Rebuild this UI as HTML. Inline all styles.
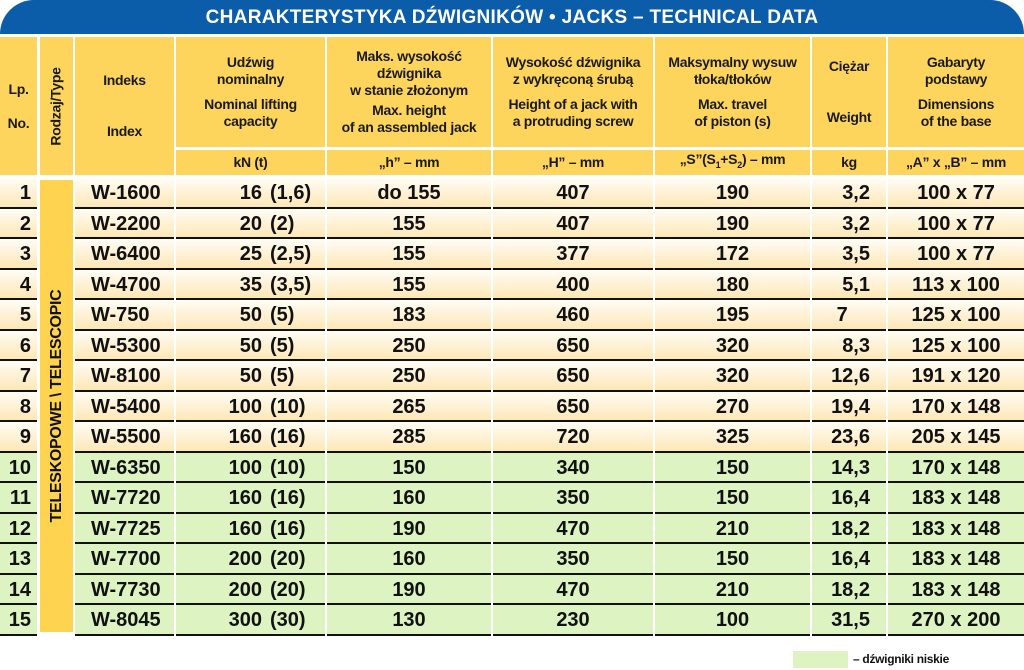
<!DOCTYPE html>
<html><head><meta charset="utf-8">
<style>
*{margin:0;padding:0;box-sizing:border-box}
body{width:1024px;height:670px;background:#fff;position:relative;overflow:hidden;font-family:"Liberation Sans",sans-serif;font-weight:bold;color:#111}
.t{position:absolute;left:0;top:0;width:1024px;height:34px;background:#0b5ca9;border-radius:34px 34px 0 0;color:#fff;font-size:19px;text-align:center;line-height:36px;letter-spacing:0.3px}
.h{position:absolute;background:#fdd45c;display:flex;align-items:center;justify-content:center;text-align:center;font-size:14px;line-height:17px;color:#1a1a1a;letter-spacing:-0.3px}
.h>div{width:100%}
.rot{position:absolute;left:40px;width:33px;background:#fdd350}
.row{position:absolute;left:0;width:1024px;height:30.5px}
.c{position:absolute;top:0;height:30.5px;border-bottom:2.5px solid #111;font-size:20px;line-height:30px}
.y .c{background:linear-gradient(#fffdf6,#fde7b5)}
.g .c{background:#ddf4c2}
.c1{left:0;width:37px;text-align:right;padding-right:6px}
.c3{left:75px;width:99px;padding-left:16px}
.c4{left:176px;width:149px}
.c4 .a{position:absolute;right:63px}.c4 .b{position:absolute;left:94px}
.c5{left:327px;width:164px;text-align:center}
.c6{left:493px;width:160px;text-align:center}
.c7{left:655px;width:155px;text-align:center}
.c8{left:812px;width:74px;text-align:right;padding-right:16px}
.c9{left:888px;width:136px;text-align:center}
.sp{display:block;height:8px}
</style></head><body>
<div class="t">CHARAKTERYSTYKA DŹWIGNIKÓW • JACKS – TECHNICAL DATA</div>
<div class="h" style="left:0;top:37px;width:37px;height:138px"><div>Lp.<br><br>No.</div></div>
<div class="h" style="left:40px;top:37px;width:33px;height:138px"><span style="transform:rotate(-90deg);white-space:nowrap;display:block">Rodzaj/Type</span></div>
<div class="h" style="left:75px;top:37px;width:99px;height:138px"><div>Indeks<br><br><br>Index</div></div>
<div class="h" style="left:176px;top:37px;width:149px;height:110px"><div>Udźwig<br>nominalny<span class="sp"></span>Nominal lifting<br>capacity</div></div>
<div class="h" style="left:327px;top:37px;width:164px;height:110px"><div>Maks. wysokość<br>dźwignika<br>w stanie złożonym<span style="display:block;height:3px"></span>Max. height<br>of an assembled jack</div></div>
<div class="h" style="left:493px;top:37px;width:160px;height:110px"><div>Wysokość dźwignika<br>z wykręconą śrubą<span class="sp"></span>Height of a jack with<br>a protruding screw</div></div>
<div class="h" style="left:655px;top:37px;width:155px;height:110px"><div>Maksymalny wysuw<br>tłoka/tłoków<span class="sp"></span>Max. travel<br>of piston (s)</div></div>
<div class="h" style="left:812px;top:37px;width:74px;height:110px"><div>Ciężar<br><br><br>Weight</div></div>
<div class="h" style="left:888px;top:37px;width:136px;height:110px"><div>Gabaryty<br>podstawy<span class="sp"></span>Dimensions<br>of the base</div></div>
<div class="h" style="left:176px;top:150px;width:149px;height:25px"><div>kN (t)</div></div>
<div class="h" style="left:327px;top:150px;width:164px;height:25px"><div>„h” – mm</div></div>
<div class="h" style="left:493px;top:150px;width:160px;height:25px"><div>„H” – mm</div></div>
<div class="h" style="left:655px;top:150px;width:155px;height:25px"><div>„S”(S<sub style="font-size:9px">1</sub>+S<sub style="font-size:9px">2</sub>) – mm</div></div>
<div class="h" style="left:812px;top:150px;width:74px;height:25px"><div>kg</div></div>
<div class="h" style="left:888px;top:150px;width:136px;height:25px"><div>„A” x „B” – mm</div></div>
<div class="rot" style="top:180px;height:452px"><span style="position:absolute;left:50%;top:50%;transform:translate(-50%,-50%) rotate(-90deg);white-space:nowrap;font-size:16px;letter-spacing:-0.3px">TELESKOPOWE \ TELESCOPIC</span></div>

<div class="row y" style="top:178px"><div class="c c1">1</div><div class="c c3">W-1600</div><div class="c c4"><span class="a">16</span><span class="b">(1,6)</span></div><div class="c c5">do 155</div><div class="c c6">407</div><div class="c c7">190</div><div class="c c8">3,2</div><div class="c c9">100 x 77</div></div>
<div class="row y" style="top:208.5px"><div class="c c1">2</div><div class="c c3">W-2200</div><div class="c c4"><span class="a">20</span><span class="b">(2)</span></div><div class="c c5">155</div><div class="c c6">407</div><div class="c c7">190</div><div class="c c8">3,2</div><div class="c c9">100 x 77</div></div>
<div class="row y" style="top:239px"><div class="c c1">3</div><div class="c c3">W-6400</div><div class="c c4"><span class="a">25</span><span class="b">(2,5)</span></div><div class="c c5">155</div><div class="c c6">377</div><div class="c c7">172</div><div class="c c8">3,5</div><div class="c c9">100 x 77</div></div>
<div class="row y" style="top:269.5px"><div class="c c1">4</div><div class="c c3">W-4700</div><div class="c c4"><span class="a">35</span><span class="b">(3,5)</span></div><div class="c c5">155</div><div class="c c6">400</div><div class="c c7">180</div><div class="c c8">5,1</div><div class="c c9">113 x 100</div></div>
<div class="row y" style="top:300px"><div class="c c1">5</div><div class="c c3">W-750</div><div class="c c4"><span class="a">50</span><span class="b">(5)</span></div><div class="c c5">183</div><div class="c c6">460</div><div class="c c7">195</div><div class="c c8">7&nbsp;&nbsp;&nbsp;&nbsp;</div><div class="c c9">125 x 100</div></div>
<div class="row y" style="top:330.5px"><div class="c c1">6</div><div class="c c3">W-5300</div><div class="c c4"><span class="a">50</span><span class="b">(5)</span></div><div class="c c5">250</div><div class="c c6">650</div><div class="c c7">320</div><div class="c c8">8,3</div><div class="c c9">125 x 100</div></div>
<div class="row y" style="top:361px"><div class="c c1">7</div><div class="c c3">W-8100</div><div class="c c4"><span class="a">50</span><span class="b">(5)</span></div><div class="c c5">250</div><div class="c c6">650</div><div class="c c7">320</div><div class="c c8">12,6</div><div class="c c9">191 x 120</div></div>
<div class="row y" style="top:391.5px"><div class="c c1">8</div><div class="c c3">W-5400</div><div class="c c4"><span class="a">100</span><span class="b">(10)</span></div><div class="c c5">265</div><div class="c c6">650</div><div class="c c7">270</div><div class="c c8">19,4</div><div class="c c9">170 x 148</div></div>
<div class="row y" style="top:422px"><div class="c c1">9</div><div class="c c3">W-5500</div><div class="c c4"><span class="a">160</span><span class="b">(16)</span></div><div class="c c5">285</div><div class="c c6">720</div><div class="c c7">325</div><div class="c c8">23,6</div><div class="c c9">205 x 145</div></div>
<div class="row g" style="top:452.5px"><div class="c c1">10</div><div class="c c3">W-6350</div><div class="c c4"><span class="a">100</span><span class="b">(10)</span></div><div class="c c5">150</div><div class="c c6">340</div><div class="c c7">150</div><div class="c c8">14,3</div><div class="c c9">170 x 148</div></div>
<div class="row g" style="top:483px"><div class="c c1">11</div><div class="c c3">W-7720</div><div class="c c4"><span class="a">160</span><span class="b">(16)</span></div><div class="c c5">160</div><div class="c c6">350</div><div class="c c7">150</div><div class="c c8">16,4</div><div class="c c9">183 x 148</div></div>
<div class="row g" style="top:513.5px"><div class="c c1">12</div><div class="c c3">W-7725</div><div class="c c4"><span class="a">160</span><span class="b">(16)</span></div><div class="c c5">190</div><div class="c c6">470</div><div class="c c7">210</div><div class="c c8">18,2</div><div class="c c9">183 x 148</div></div>
<div class="row g" style="top:544px"><div class="c c1">13</div><div class="c c3">W-7700</div><div class="c c4"><span class="a">200</span><span class="b">(20)</span></div><div class="c c5">160</div><div class="c c6">350</div><div class="c c7">150</div><div class="c c8">16,4</div><div class="c c9">183 x 148</div></div>
<div class="row g" style="top:574.5px"><div class="c c1">14</div><div class="c c3">W-7730</div><div class="c c4"><span class="a">200</span><span class="b">(20)</span></div><div class="c c5">190</div><div class="c c6">470</div><div class="c c7">210</div><div class="c c8">18,2</div><div class="c c9">183 x 148</div></div>
<div class="row g" style="top:605px"><div class="c c1">15</div><div class="c c3">W-8045</div><div class="c c4"><span class="a">300</span><span class="b">(30)</span></div><div class="c c5">130</div><div class="c c6">230</div><div class="c c7">100</div><div class="c c8">31,5</div><div class="c c9">270 x 200</div></div>

<div style="position:absolute;left:793px;top:651px;width:55px;height:17px;background:#ddf4c2"></div>
<div style="position:absolute;left:853px;top:652px;font-size:12px;letter-spacing:-0.3px">– dźwigniki niskie</div>
</body></html>
